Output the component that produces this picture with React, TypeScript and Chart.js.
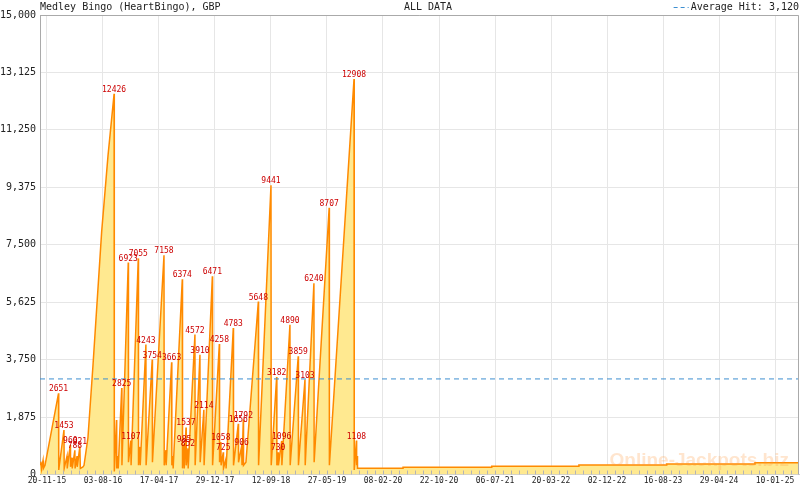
import { useEffect, useRef } from "react";
import { Chart, registerables } from "chart.js";

Chart.register(...registerables);

const MONO = '"DejaVu Sans Mono", monospace';

const title = "Medley Bingo (HeartBingo), GBP";
const subtitle = "ALL DATA";
const averageHit = 3120;

// x = days after 20-11-15, y = jackpot in GBP
const days = [
  -32, -28, -25, -18, -16, -9, 53, 54, 78, 79, 92, 93, 107, 108, 115, 116, 128, 129,
  138, 139, 151, 153, 165, 170, 188, 211, 251, 280, 308, 309, 319, 320, 326, 327,
  343, 344, 373, 374, 385, 386, 419, 420, 427, 428, 454, 455, 483, 484, 537, 538,
  546, 547, 572, 573, 578, 579, 621, 622, 629, 630, 638, 639, 647, 648, 679, 680,
  702, 703, 720, 721, 759, 760, 791, 792, 798, 799, 809, 810, 821, 822, 855, 856,
  878, 879, 893, 895, 901, 902, 913, 970, 971, 1028, 1029, 1054, 1055, 1061, 1062,
  1077, 1078, 1115, 1116, 1153, 1154, 1184, 1185, 1225, 1226, 1295, 1296, 1409,
  1410, 1420, 1421, 1424, 1425, 1634, 1634, 2041, 2041, 2441, 2441, 2844, 2844,
  3249, 3249, 3451,
];
const values = [
  330, 420, 180, 460, 200, 300, 2651, 150, 1453, 200, 600, 200, 960, 250, 550, 200, 788, 200,
  600, 250, 921, 200, 250, 300, 1200, 3550, 7930, 10400, 12426, 100, 1779, 200, 600, 200,
  2825, 300, 6923, 400, 1107, 300, 7055, 300, 900, 300, 4243, 300, 3754, 400, 7158, 300,
  800, 300, 3663, 300, 600, 200, 6374, 200, 985, 200, 1537, 300, 852, 200, 4572, 300,
  3910, 400, 2114, 300, 6471, 300, 4258, 400, 1058, 300, 725, 200, 500, 200, 4783, 300,
  1656, 400, 906, 300, 1792, 300, 400, 5648, 300, 9441, 300, 3182, 300, 730, 300,
  1096, 300, 4890, 300, 3859, 300, 3103, 300, 6240, 400, 8707, 300, 12908,
  150, 1108, 300, 600, 202, 202, 235, 235, 268, 268, 310, 310, 343,
  343, 385, 385,
];

// jackpot hits that carry a red label above their peak
const hitValues = [
  2651, 1453, 960, 788, 921, 12426, 2825, 6923, 1107, 7055, 4243, 3754, 7158, 3663,
  6374, 985, 1537, 852, 4572, 3910, 2114, 6471, 4258, 1058, 725, 4783, 1656, 906,
  1792, 5648, 9441, 3182, 730, 1096, 4890, 3859, 3103, 6240, 8707, 12908, 1108,
];

const tickLabels = [
  "20-11-15", "03-08-16", "17-04-17", "29-12-17", "12-09-18", "27-05-19", "08-02-20",
  "22-10-20", "06-07-21", "20-03-22", "02-12-22", "16-08-23", "29-04-24", "10-01-25",
];
const tickEvery = 257; // days between labelled ticks
const minorPerMajor = 7;

const xMin = -32;
const xMax = 3451;

const decorations = {
  id: "decorations",
  afterDatasetsDraw(chart: any) {
    const { ctx, chartArea: a } = chart;
    const xs = chart.scales.x;
    ctx.save();

    // small ticks along the bottom
    ctx.strokeStyle = "#b4b4b4";
    ctx.lineWidth = 1;
    xs.ticks.forEach((t: any) => {
      const px = Math.round(xs.getPixelForValue(t.value)) + 0.5;
      ctx.beginPath();
      ctx.moveTo(px, a.bottom);
      ctx.lineTo(px, a.bottom - 4);
      ctx.stroke();
    });

    // frame on top and right
    ctx.strokeStyle = "#aaaaaa";
    ctx.beginPath();
    ctx.moveTo(a.left, a.top + 0.5);
    ctx.lineTo(a.right - 0.5, a.top + 0.5);
    ctx.lineTo(a.right - 0.5, a.bottom);
    ctx.stroke();

    // watermark
    ctx.font = 'bold 19px "Liberation Sans", sans-serif';
    ctx.fillStyle = "rgba(255, 150, 60, 0.25)";
    ctx.textAlign = "right";
    ctx.textBaseline = "alphabetic";
    ctx.fillText("Online-Jackpots.biz", 789, 466);

    // red labels on hits
    const meta = chart.getDatasetMeta(0);
    ctx.font = `8px ${MONO}`;
    ctx.fillStyle = "#cc0000";
    ctx.textAlign = "center";
    ctx.textBaseline = "bottom";
    meta.data.forEach((pt: any, i: number) => {
      if (hitValues.includes(values[i])) {
        ctx.fillText(String(values[i]), pt.x, pt.y);
      }
    });
    ctx.restore();
  },
  afterDraw(chart: any) {
    const { ctx, chartArea: a } = chart;
    ctx.save();
    ctx.font = `10px ${MONO}`;
    ctx.fillStyle = "#222";
    ctx.textBaseline = "middle";
    ctx.textAlign = "left";
    ctx.fillText(title, a.left, 7);
    ctx.textAlign = "center";
    ctx.fillText(subtitle, 428, 7);

    const legendText = "Average Hit: " + averageHit.toLocaleString("en-US");
    ctx.textAlign = "right";
    ctx.fillText(legendText, a.right, 7);
    const tw = ctx.measureText(legendText).width;
    ctx.strokeStyle = "#3d8fd1";
    ctx.lineWidth = 1;
    ctx.setLineDash([4, 3]);
    ctx.beginPath();
    ctx.moveTo(a.right - tw - 17, 7.5);
    ctx.lineTo(a.right - tw - 2, 7.5);
    ctx.stroke();
    ctx.restore();
  },
};

const App = () => {
  const chartRef = useRef<HTMLCanvasElement>(null);

  useEffect(() => {
    if (!chartRef.current) return;

    const chart = new Chart(chartRef.current, {
      type: "line",
      data: {
        datasets: [
          {
            label: "Jackpot",
            data: days.map((d, i) => ({ x: d, y: values[i] })),
            borderColor: "#ff8a00",
            backgroundColor: "#ffe990",
            borderWidth: 1.5,
            fill: "origin",
            pointRadius: 0,
            tension: 0,
            order: 1,
          },
          {
            label: "Average Hit",
            data: [
              { x: xMin, y: averageHit },
              { x: xMax, y: averageHit },
            ],
            borderColor: "#3d8fd1",
            borderWidth: 1,
            borderDash: [5, 4],
            fill: false,
            pointRadius: 0,
            order: 0,
          },
        ],
      },
      options: {
        animation: false,
        responsive: true,
        maintainAspectRatio: false,
        layout: { padding: { top: 15, right: 1, left: 0, bottom: 0 } },
        plugins: {
          legend: { display: false },
          tooltip: { enabled: false },
        },
        scales: {
          x: {
            type: "linear",
            min: xMin,
            max: xMax,
            afterBuildTicks: (scale: any) => {
              const ticks = [];
              for (let i = 0; i <= tickLabels.length * minorPerMajor; i++) {
                const v = (i * tickEvery) / minorPerMajor;
                if (v <= xMax) ticks.push({ value: v });
              }
              scale.ticks = ticks;
            },
            afterFit: (scale: any) => {
              scale.height = 15.5;
            },
            grid: {
              color: (c: any) =>
                c.index % minorPerMajor === 0 ? "#e6e6e6" : "rgba(0,0,0,0)",
              drawTicks: false,
            },
            border: { color: "#cfcfcf" },
            ticks: {
              autoSkip: false,
              maxRotation: 0,
              padding: 2,
              color: "#222",
              font: { family: MONO, size: 8 },
              callback: (_v: any, index: number) =>
                index % minorPerMajor === 0 ? tickLabels[index / minorPerMajor] : "",
            },
          },
          y: {
            min: 0,
            max: 15000,
            afterFit: (scale: any) => {
              scale.width = 40;
            },
            grid: { color: "#e6e6e6", drawTicks: false },
            border: { color: "#aaaaaa" },
            ticks: {
              stepSize: 1875,
              padding: 4,
              color: "#222",
              font: { family: MONO, size: 10 },
              callback: (v: any) => Number(v).toLocaleString("en-US"),
            },
          },
        },
      },
      plugins: [decorations],
    });

    return () => {
      chart.destroy();
    };
  }, []);

  return (
    <div style={{ position: "absolute", left: 0, top: 0, width: "800px", height: "490px" }}>
      <canvas ref={chartRef} />
    </div>
  );
};

export default App;
